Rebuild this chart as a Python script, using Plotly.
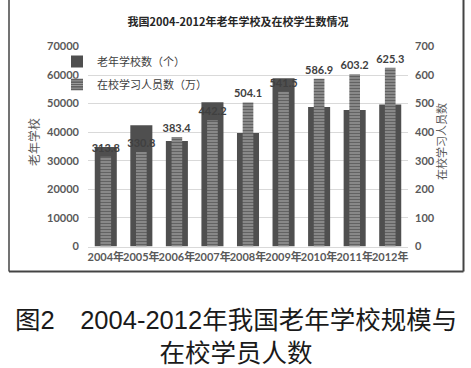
import plotly.graph_objects as go

W, H = 471, 368

years = ["2004年", "2005年", "2006年", "2007年", "2008年", "2009年", "2010年", "2011年", "2012年"]
schools = [34800, 42400, 36900, 50500, 39700, 58900, 48800, 47800, 49700]
students = [313.8, 330.8, 383.4, 442.2, 504.1, 541.5, 586.9, 603.2, 625.3]
student_labels = ["313.8", "330.8", "383.4", "442.2", "504.1", "541.5", "586.9", "603.2", "625.3"]

chart_title = "我国2004-2012年老年学校及在校学生数情况"
caption1 = "图2\u30002004-2012年我国老年学校规模与"
caption2 = "在校学员人数"
left_title = "老年学校"
right_title = "在校学习人员数"
name_schools = "老年学校数（个）"
name_students = "在校学习人员数（万）"

def px_x(x):
    return x / W

def px_y(y):
    return 1 - y / H

tick_font = dict(family="Lato, Noto Sans CJK SC", size=11, color="#595959", weight="bold")
cap_font = dict(family="Liberation Sans, Noto Sans CJK SC", size=25.5, color="#1a1a1a")

fig = go.Figure()
fig.add_trace(go.Bar(
    x=years, y=schools, name=name_schools, yaxis="y",
    width=0.62, marker=dict(color="#4f4f4f", line=dict(width=0)),
    legendgroup="a",
))
fig.add_trace(go.Bar(
    x=years, y=students, name=name_students, yaxis="y2",
    width=0.3,
    marker=dict(color="#5a5a5a", line=dict(width=0),
                pattern=dict(shape="-", fgcolor="#ffffff", bgcolor="#5a5a5a",
                             size=3, solidity=0.4)),
    text=student_labels, textposition="outside", constraintext="none", cliponaxis=False,
    textfont=dict(family="Lato, Noto Sans CJK SC", size=11, color="#404040", weight="bold"),
    legendgroup="b",
))

fig.update_layout(
    width=W, height=H,
    margin=dict(l=0, r=0, t=0, b=0, autoexpand=False),
    paper_bgcolor="white", plot_bgcolor="white",
    barmode="overlay",
    showlegend=True,
    legend=dict(x=px_x(57), y=px_y(47), xanchor="left", yanchor="top",
                bgcolor="rgba(0,0,0,0)", traceorder="grouped", tracegroupgap=4,
                font=dict(family="Noto Sans CJK SC", size=11, color="#404040")),
    title=dict(text=chart_title, x=px_x(238), xanchor="center", y=px_y(22), yanchor="middle",
               font=dict(family="Noto Sans CJK SC", size=11, color="#262626", weight="bold")),
    xaxis=dict(domain=[px_x(88), px_x(408)], type="category", tickfont=tick_font,
               tickangle=0, automargin=False,
               showline=True, linecolor="#d9d9d9", linewidth=1, ticks="", showgrid=False),
    yaxis=dict(domain=[px_y(246.5), px_y(46.5)], range=[0, 70000], dtick=10000,
               tickfont=tick_font, showgrid=True, gridcolor="#d9d9d9", gridwidth=1,
               automargin=False,
               zeroline=False, ticks="", ticklabelstandoff=8, tickformat="d"),
    yaxis2=dict(overlaying="y", side="right", range=[0, 700], dtick=100,
                tickfont=tick_font, showgrid=False, zeroline=False, ticks="",
                automargin=False, ticklabelstandoff=6),
    annotations=[
        dict(text=left_title, x=px_x(33), y=px_y(142), xref="paper", yref="paper",
             xanchor="center", yanchor="middle",
             textangle=-90, showarrow=False,
             font=dict(family="Noto Sans CJK SC", size=12, color="#595959")),
        dict(text=right_title, x=px_x(441), y=px_y(142), xref="paper", yref="paper",
             xanchor="center", yanchor="middle",
             textangle=-90, showarrow=False,
             font=dict(family="Noto Sans CJK SC", size=11, color="#595959")),
        dict(text=caption1 + "<br>" + caption2, x=px_x(236), y=px_y(336.5),
             xref="paper", yref="paper", align="center",
             xanchor="center", yanchor="middle",
             showarrow=False, font=cap_font),
    ],
    shapes=[
        dict(type="line", xref="paper", yref="paper", x0=px_x(9), x1=px_x(9),
             y0=px_y(0), y1=px_y(271.5), line=dict(color="#444444", width=1.5)),
        dict(type="line", xref="paper", yref="paper", x0=px_x(463.5), x1=px_x(463.5),
             y0=px_y(0), y1=px_y(271.5), line=dict(color="#444444", width=2)),
        dict(type="line", xref="paper", yref="paper", x0=px_x(9), x1=px_x(463.5),
             y0=px_y(271.5), y1=px_y(271.5), line=dict(color="#444444", width=2)),
    ],
)

fig.write_html("out.html", config={"displayModeBar": False},
               post_script="document.body.style.margin='0';document.body.style.padding='0';")
